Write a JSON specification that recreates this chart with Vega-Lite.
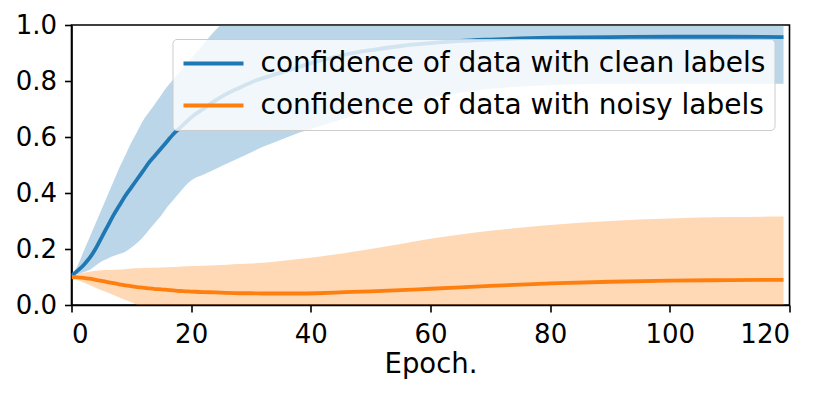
{
  "$schema": "https://vega.github.io/schema/vega-lite/v6.json",
  "width": 718,
  "height": 280,
  "autosize": {"type": "none"},
  "padding": {"left": 71.5, "top": 25, "right": 40, "bottom": 91},
  "background": "white",
  "config": {
    "view": {"stroke": "black", "strokeWidth": 1.6},
    "font": "DejaVu Sans",
    "axis": {
      "domainColor": "black", "domainWidth": 1.6,
      "tickColor": "black", "tickWidth": 1.6, "tickSize": 7,
      "labelFont": "DejaVu Sans", "labelFontSize": 26, "labelColor": "black",
      "titleFont": "DejaVu Sans", "titleFontSize": 27.5, "titleColor": "black", "titleFontWeight": "normal",
      "grid": false
    },
    "legend": {
      "labelFont": "DejaVu Sans", "labelFontSize": 28, "labelColor": "black", "labelLimit": 1000
    }
  },
  "data": {
    "values": [
      {"epoch":0,"series":"confidence of data with clean labels","mean":0.105,"lo":0.105,"hi":0.105},
      {"epoch":1,"series":"confidence of data with clean labels","mean":0.122,"lo":0.11,"hi":0.14},
      {"epoch":2,"series":"confidence of data with clean labels","mean":0.142,"lo":0.117,"hi":0.19},
      {"epoch":3,"series":"confidence of data with clean labels","mean":0.167,"lo":0.125,"hi":0.24},
      {"epoch":4,"series":"confidence of data with clean labels","mean":0.2,"lo":0.14,"hi":0.29},
      {"epoch":5,"series":"confidence of data with clean labels","mean":0.24,"lo":0.155,"hi":0.34},
      {"epoch":6,"series":"confidence of data with clean labels","mean":0.28,"lo":0.165,"hi":0.39},
      {"epoch":7,"series":"confidence of data with clean labels","mean":0.32,"lo":0.175,"hi":0.44},
      {"epoch":8,"series":"confidence of data with clean labels","mean":0.355,"lo":0.182,"hi":0.49},
      {"epoch":9,"series":"confidence of data with clean labels","mean":0.39,"lo":0.19,"hi":0.535},
      {"epoch":10,"series":"confidence of data with clean labels","mean":0.42,"lo":0.205,"hi":0.58},
      {"epoch":11,"series":"confidence of data with clean labels","mean":0.45,"lo":0.222,"hi":0.62},
      {"epoch":12,"series":"confidence of data with clean labels","mean":0.48,"lo":0.244,"hi":0.66},
      {"epoch":13,"series":"confidence of data with clean labels","mean":0.51,"lo":0.27,"hi":0.69},
      {"epoch":14,"series":"confidence of data with clean labels","mean":0.535,"lo":0.295,"hi":0.72},
      {"epoch":15,"series":"confidence of data with clean labels","mean":0.56,"lo":0.32,"hi":0.75},
      {"epoch":16,"series":"confidence of data with clean labels","mean":0.585,"lo":0.35,"hi":0.78},
      {"epoch":17,"series":"confidence of data with clean labels","mean":0.61,"lo":0.375,"hi":0.805},
      {"epoch":18,"series":"confidence of data with clean labels","mean":0.63,"lo":0.4,"hi":0.83},
      {"epoch":19,"series":"confidence of data with clean labels","mean":0.65,"lo":0.425,"hi":0.855},
      {"epoch":20,"series":"confidence of data with clean labels","mean":0.67,"lo":0.445,"hi":0.88},
      {"epoch":22,"series":"confidence of data with clean labels","mean":0.7,"lo":0.465,"hi":0.93},
      {"epoch":24,"series":"confidence of data with clean labels","mean":0.73,"lo":0.485,"hi":0.98},
      {"epoch":26,"series":"confidence of data with clean labels","mean":0.755,"lo":0.505,"hi":1.02},
      {"epoch":28,"series":"confidence of data with clean labels","mean":0.775,"lo":0.525,"hi":1.04},
      {"epoch":30,"series":"confidence of data with clean labels","mean":0.795,"lo":0.545,"hi":1.06},
      {"epoch":32,"series":"confidence of data with clean labels","mean":0.81,"lo":0.565,"hi":1.07},
      {"epoch":35,"series":"confidence of data with clean labels","mean":0.83,"lo":0.59,"hi":1.08},
      {"epoch":38,"series":"confidence of data with clean labels","mean":0.85,"lo":0.615,"hi":1.09},
      {"epoch":41,"series":"confidence of data with clean labels","mean":0.87,"lo":0.635,"hi":1.1},
      {"epoch":44,"series":"confidence of data with clean labels","mean":0.885,"lo":0.655,"hi":1.11},
      {"epoch":47,"series":"confidence of data with clean labels","mean":0.9,"lo":0.675,"hi":1.12},
      {"epoch":50,"series":"confidence of data with clean labels","mean":0.91,"lo":0.695,"hi":1.12},
      {"epoch":55,"series":"confidence of data with clean labels","mean":0.925,"lo":0.72,"hi":1.13},
      {"epoch":60,"series":"confidence of data with clean labels","mean":0.935,"lo":0.74,"hi":1.13},
      {"epoch":65,"series":"confidence of data with clean labels","mean":0.943,"lo":0.758,"hi":1.13},
      {"epoch":70,"series":"confidence of data with clean labels","mean":0.948,"lo":0.772,"hi":1.13},
      {"epoch":75,"series":"confidence of data with clean labels","mean":0.952,"lo":0.78,"hi":1.13},
      {"epoch":80,"series":"confidence of data with clean labels","mean":0.955,"lo":0.785,"hi":1.13},
      {"epoch":90,"series":"confidence of data with clean labels","mean":0.957,"lo":0.79,"hi":1.13},
      {"epoch":100,"series":"confidence of data with clean labels","mean":0.958,"lo":0.79,"hi":1.13},
      {"epoch":110,"series":"confidence of data with clean labels","mean":0.958,"lo":0.79,"hi":1.13},
      {"epoch":119,"series":"confidence of data with clean labels","mean":0.957,"lo":0.79,"hi":1.12},
      {"epoch":0,"series":"confidence of data with noisy labels","mean":0.1,"lo":0.1,"hi":0.1},
      {"epoch":1,"series":"confidence of data with noisy labels","mean":0.099,"lo":0.09,"hi":0.11},
      {"epoch":2,"series":"confidence of data with noisy labels","mean":0.097,"lo":0.08,"hi":0.115},
      {"epoch":3,"series":"confidence of data with noisy labels","mean":0.094,"lo":0.071,"hi":0.119},
      {"epoch":4,"series":"confidence of data with noisy labels","mean":0.09,"lo":0.062,"hi":0.122},
      {"epoch":5,"series":"confidence of data with noisy labels","mean":0.086,"lo":0.053,"hi":0.124},
      {"epoch":6,"series":"confidence of data with noisy labels","mean":0.082,"lo":0.045,"hi":0.125},
      {"epoch":7,"series":"confidence of data with noisy labels","mean":0.078,"lo":0.036,"hi":0.126},
      {"epoch":8,"series":"confidence of data with noisy labels","mean":0.074,"lo":0.027,"hi":0.127},
      {"epoch":9,"series":"confidence of data with noisy labels","mean":0.07,"lo":0.018,"hi":0.128},
      {"epoch":10,"series":"confidence of data with noisy labels","mean":0.067,"lo":0.01,"hi":0.13},
      {"epoch":11,"series":"confidence of data with noisy labels","mean":0.064,"lo":0.0,"hi":0.131},
      {"epoch":12,"series":"confidence of data with noisy labels","mean":0.062,"lo":-0.01,"hi":0.132},
      {"epoch":13,"series":"confidence of data with noisy labels","mean":0.059,"lo":-0.017,"hi":0.133},
      {"epoch":14,"series":"confidence of data with noisy labels","mean":0.057,"lo":-0.024,"hi":0.133},
      {"epoch":15,"series":"confidence of data with noisy labels","mean":0.056,"lo":-0.03,"hi":0.134},
      {"epoch":16,"series":"confidence of data with noisy labels","mean":0.054,"lo":-0.035,"hi":0.135},
      {"epoch":17,"series":"confidence of data with noisy labels","mean":0.052,"lo":-0.04,"hi":0.136},
      {"epoch":18,"series":"confidence of data with noisy labels","mean":0.05,"lo":-0.044,"hi":0.137},
      {"epoch":19,"series":"confidence of data with noisy labels","mean":0.049,"lo":-0.047,"hi":0.138},
      {"epoch":20,"series":"confidence of data with noisy labels","mean":0.048,"lo":-0.05,"hi":0.139},
      {"epoch":22,"series":"confidence of data with noisy labels","mean":0.046,"lo":-0.055,"hi":0.14},
      {"epoch":24,"series":"confidence of data with noisy labels","mean":0.045,"lo":-0.06,"hi":0.142},
      {"epoch":26,"series":"confidence of data with noisy labels","mean":0.043,"lo":-0.063,"hi":0.144},
      {"epoch":28,"series":"confidence of data with noisy labels","mean":0.042,"lo":-0.066,"hi":0.146},
      {"epoch":30,"series":"confidence of data with noisy labels","mean":0.042,"lo":-0.068,"hi":0.148},
      {"epoch":32,"series":"confidence of data with noisy labels","mean":0.041,"lo":-0.07,"hi":0.151},
      {"epoch":35,"series":"confidence of data with noisy labels","mean":0.041,"lo":-0.075,"hi":0.157},
      {"epoch":38,"series":"confidence of data with noisy labels","mean":0.041,"lo":-0.08,"hi":0.164},
      {"epoch":41,"series":"confidence of data with noisy labels","mean":0.042,"lo":-0.085,"hi":0.171},
      {"epoch":44,"series":"confidence of data with noisy labels","mean":0.044,"lo":-0.09,"hi":0.18},
      {"epoch":47,"series":"confidence of data with noisy labels","mean":0.047,"lo":-0.095,"hi":0.19},
      {"epoch":50,"series":"confidence of data with noisy labels","mean":0.049,"lo":-0.1,"hi":0.2},
      {"epoch":55,"series":"confidence of data with noisy labels","mean":0.053,"lo":-0.11,"hi":0.218},
      {"epoch":60,"series":"confidence of data with noisy labels","mean":0.058,"lo":-0.115,"hi":0.237},
      {"epoch":65,"series":"confidence of data with noisy labels","mean":0.063,"lo":-0.12,"hi":0.252},
      {"epoch":70,"series":"confidence of data with noisy labels","mean":0.068,"lo":-0.125,"hi":0.265},
      {"epoch":75,"series":"confidence of data with noisy labels","mean":0.073,"lo":-0.13,"hi":0.276},
      {"epoch":80,"series":"confidence of data with noisy labels","mean":0.077,"lo":-0.133,"hi":0.286},
      {"epoch":90,"series":"confidence of data with noisy labels","mean":0.083,"lo":-0.136,"hi":0.3},
      {"epoch":100,"series":"confidence of data with noisy labels","mean":0.087,"lo":-0.138,"hi":0.309},
      {"epoch":110,"series":"confidence of data with noisy labels","mean":0.089,"lo":-0.139,"hi":0.314},
      {"epoch":119,"series":"confidence of data with noisy labels","mean":0.09,"lo":-0.14,"hi":0.316}
    ]
  },
  "encoding": {
    "x": {
      "field": "epoch", "type": "quantitative",
      "scale": {"domain": [0, 120], "nice": false, "zero": false},
      "axis": {"values": [0, 20, 40, 60, 80, 100, 120], "title": "Epoch.", "labelPadding": 9, "titlePadding": 3}
    }
  },
  "layer": [
    {
      "transform": [{"filter": "datum.series === 'confidence of data with clean labels'"}],
      "mark": {"type": "area", "clip": true, "fill": "#1f77b4", "fillOpacity": 0.3, "interpolate": "monotone"},
      "encoding": {
        "y": {
          "field": "lo", "type": "quantitative",
          "scale": {"domain": [0, 1], "nice": false},
          "axis": {"values": [0, 0.2, 0.4, 0.6, 0.8, 1.0], "format": ".1f", "title": null, "labelPadding": 8}
        },
        "y2": {"field": "hi"}
      }
    },
    {
      "transform": [{"filter": "datum.series === 'confidence of data with noisy labels'"}],
      "mark": {"type": "area", "clip": true, "fill": "#ff7f0e", "fillOpacity": 0.3, "interpolate": "monotone"},
      "encoding": {
        "y": {"field": "lo", "type": "quantitative"},
        "y2": {"field": "hi"}
      }
    },
    {
      "mark": {"type": "line", "clip": true, "strokeWidth": 3.8, "interpolate": "monotone"},
      "encoding": {
        "y": {"field": "mean", "type": "quantitative"},
        "color": {
          "field": "series", "type": "nominal",
          "scale": {"domain": ["confidence of data with clean labels", "confidence of data with noisy labels"], "range": ["#1f77b4", "#ff7f0e"]},
          "legend": {
            "title": null,
            "orient": "none", "legendX": 101, "legendY": 14,
            "fillColor": "rgba(255,255,255,0.8)", "strokeColor": "#cccccc", "cornerRadius": 4,
            "padding": 9,
            "labelOffset": 15,
            "rowPadding": 11,
            "clipHeight": 31,
            "symbolType": "stroke", "symbolSize": 3600, "symbolStrokeWidth": 4
          }
        }
      }
    }
  ]
}
